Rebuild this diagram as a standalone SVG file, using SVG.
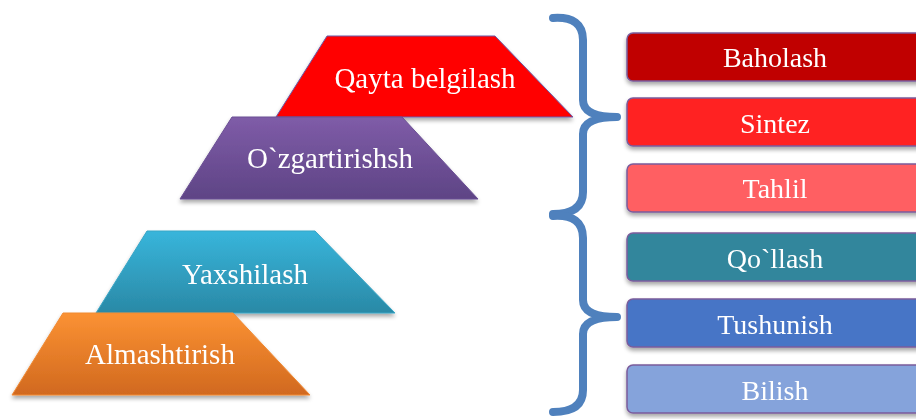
<svg xmlns="http://www.w3.org/2000/svg" width="916" height="419" viewBox="0 0 916 419">
<style>
.lbl{font-family:"Liberation Serif","Times New Roman",serif;font-size:28px;fill:#ffffff;text-anchor:middle}
.tl{font-size:29px}
.box{stroke:#7a5c9c;stroke-width:1.5}
.trap{stroke-width:1}
.brace{fill:none;stroke:#4f81bd;stroke-width:8;stroke-linecap:round;stroke-linejoin:round}
</style>
<defs>
<filter id="sh" x="-10%" y="-10%" width="120%" height="140%">
<feGaussianBlur in="SourceAlpha" stdDeviation="2"/>
<feOffset dx="0" dy="3" result="o"/>
<feComponentTransfer><feFuncA type="linear" slope="0.35"/></feComponentTransfer>
<feMerge><feMergeNode/><feMergeNode in="SourceGraphic"/></feMerge>
</filter>
<linearGradient id="gPur" x1="0" y1="0" x2="0" y2="1"><stop offset="0" stop-color="#7f5ca8"/><stop offset="1" stop-color="#5e4485"/></linearGradient>
<linearGradient id="gTeal" x1="0" y1="0" x2="0" y2="1"><stop offset="0" stop-color="#38b5db"/><stop offset="1" stop-color="#2a89a6"/></linearGradient>
<linearGradient id="gOr" x1="0" y1="0" x2="0" y2="1"><stop offset="0" stop-color="#fb9233"/><stop offset="1" stop-color="#d1691f"/></linearGradient>
</defs>

<g id="connectors">
<path class="brace" d="M553,18 Q583,16 583,40 L583,100 Q583,117 617,117 Q583,117 583,134 L583,192 Q583,214 553,214"/>
<path class="brace" d="M553,216 Q583,214 583,238 L583,300 Q583,317 617,317 Q583,317 583,334 L583,390 Q583,412 553,412"/>
</g>

<g id="trap-qayta" filter="url(#sh)">
<polygon class="trap" points="327,36 495,36 573,117 276,117" fill="#ff0000" stroke="#6a5aa8"/>
<text class="lbl tl" x="425" y="88">Qayta belgilash</text>
</g>
<g id="trap-ozgartirish" filter="url(#sh)">
<polygon class="trap" points="232,117 402,117 478,199 180,199" fill="url(#gPur)" stroke="#6a4f94"/>
<text class="lbl tl" x="330" y="168">O`zgartirishsh</text>
</g>
<g id="trap-yaxshilash" filter="url(#sh)">
<polygon class="trap" points="147,231 315,231 395,313 96,313" fill="url(#gTeal)" stroke="#3aa6c6"/>
<text class="lbl tl" x="245" y="284">Yaxshilash</text>
</g>
<g id="trap-almashtirish" filter="url(#sh)">
<polygon class="trap" points="63,313 233,313 310,395 12,395" fill="url(#gOr)" stroke="#f08a34"/>
<text class="lbl tl" x="160" y="364">Almashtirish</text>
</g>

<g id="box-baholash" filter="url(#sh)">
<rect class="box" x="627" y="33" width="300" height="48" rx="6" fill="#c00000"/>
<text class="lbl" x="775" y="67">Baholash</text>
</g>
<g id="box-sintez" filter="url(#sh)">
<rect class="box" x="627" y="98" width="300" height="48" rx="6" fill="#ff2424"/>
<text class="lbl" x="775" y="133">Sintez</text>
</g>
<g id="box-tahlil" filter="url(#sh)">
<rect class="box" x="627" y="164" width="300" height="48" rx="6" fill="#ff5f62"/>
<text class="lbl" x="775" y="198">Tahlil</text>
</g>
<g id="box-qollash" filter="url(#sh)">
<rect class="box" x="627" y="233" width="300" height="48" rx="6" fill="#31869c"/>
<text class="lbl" x="775" y="268">Qo`llash</text>
</g>
<g id="box-tushunish" filter="url(#sh)">
<rect class="box" x="627" y="299" width="300" height="48" rx="6" fill="#4674c6"/>
<text class="lbl" x="775" y="334">Tushunish</text>
</g>
<g id="box-bilish" filter="url(#sh)">
<rect class="box" x="627" y="365" width="300" height="48" rx="6" fill="#85a3db"/>
<text class="lbl" x="775" y="400">Bilish</text>
</g>
</svg>
